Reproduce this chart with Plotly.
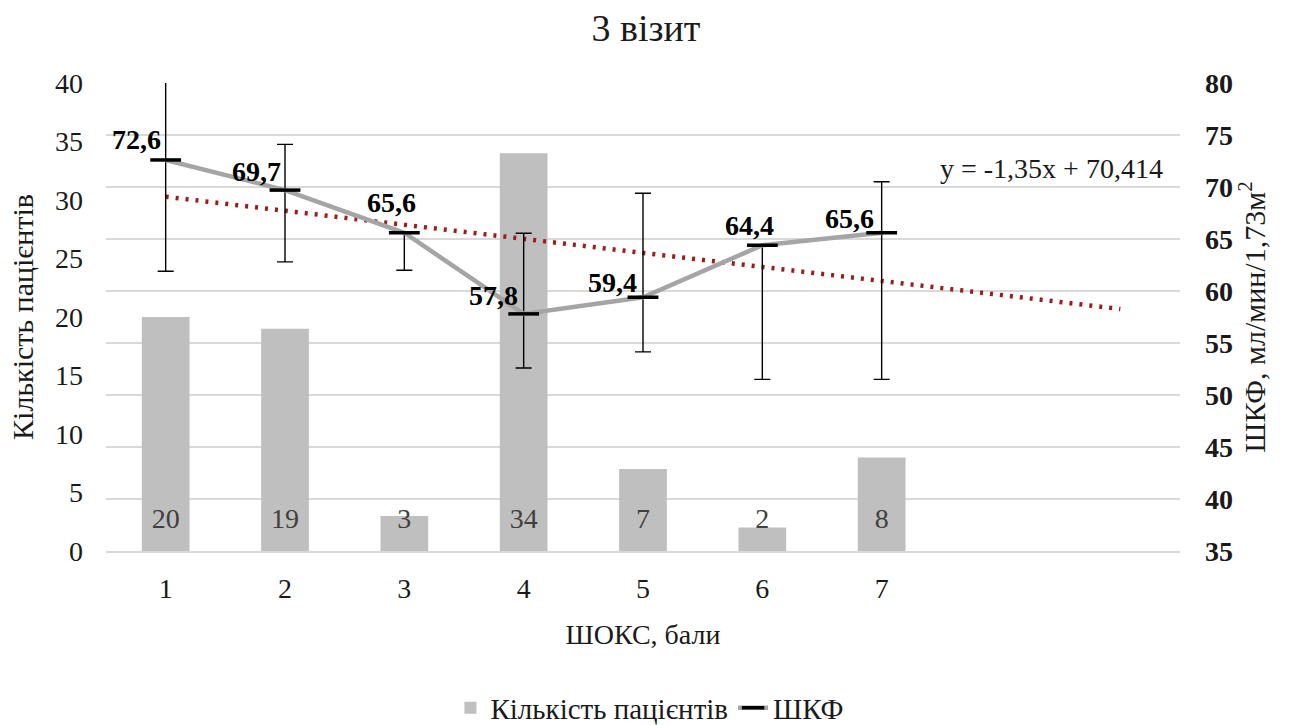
import numpy as np
import plotly.graph_objects as go

# ---------------- data ----------------
categories = [1, 2, 3, 4, 5, 6, 7]
tick_labels = ["1", "2", "3", "4", "5", "6", "7"]
patients = [20, 19, 3, 34, 7, 2, 8]
gfr = [72.6, 69.7, 65.6, 57.8, 59.4, 64.4, 65.6]
gfr_err_plus = [11.3, 4.4, 0.0, 7.75, 10.0, 0.0, 4.9]
gfr_err_minus = [10.7, 6.9, 3.6, 5.2, 5.25, 12.9, 14.1]
trend_x_range = [1, 9]

# ---------------- style ----------------
FONT = "Liberation Serif, Times New Roman, serif"
TXT = "#1a1a1a"
BASE = 28
BAR_LABEL_Y = 2.6
# label offsets (px) of the line data labels relative to their points
label_dx = [-29, -28.5, -12.7, -30, -30.7, -13.3, -32]
label_dy = [20, 19, 30, 18.5, 14.7, 20, 14]

slope, intercept = np.polyfit(categories, gfr, 1)
trend_y = [slope * x + intercept for x in trend_x_range]
trend_text = f"y = {slope:.2f}x + {intercept:.3f}".replace(".", ",")

fig = go.Figure()

fig.add_trace(go.Bar(
    x=categories, y=patients, name="Кількість пацієнтів",
    marker=dict(color="#bfbfbf", line=dict(width=0)), width=0.4, yaxis="y",
))
fig.add_trace(go.Scatter(
    x=categories, y=[BAR_LABEL_Y] * len(categories), mode="text",
    text=[str(v) for v in patients],
    textfont=dict(family=FONT, size=BASE, color="#404040"),
    showlegend=False, hoverinfo="skip", yaxis="y",
))
fig.add_trace(go.Scatter(
    x=trend_x_range, y=trend_y, mode="lines",
    line=dict(color="#9e1b1b", width=4.5, dash="3px,7px"),
    showlegend=False, hoverinfo="skip", yaxis="y2",
))
fig.add_trace(go.Scatter(
    x=categories, y=gfr, mode="lines+markers", name="ШКФ",
    line=dict(color="#a5a5a5", width=4.5),
    marker=dict(symbol="line-ew", size=22, color="black",
                line=dict(width=3.5, color="black")),
    error_y=dict(type="data", symmetric=False, array=gfr_err_plus,
                 arrayminus=gfr_err_minus, color="black",
                 thickness=1.4, width=8),
    yaxis="y2",
))

annotations = []
for x, v, dx, dy in zip(categories, gfr, label_dx, label_dy):
    annotations.append(dict(
        x=x, y=v, xref="x", yref="y2", text=f"{v:.1f}".replace(".", ","),
        showarrow=False, xshift=dx, yshift=dy,
        font=dict(family=FONT, size=BASE, color="black", weight="bold"),
    ))
annotations.append(dict(
    x=1.0 - (1180 - 1165) / 1074, y=(551 - 168) / 468,
    xref="paper", yref="paper", text=trend_text,
    xanchor="right", yanchor="middle",
    showarrow=False, font=dict(family=FONT, size=BASE, color=TXT),
))

fig.update_layout(
    width=1292, height=725,
    margin=dict(l=106, r=112, t=83, b=174, autoexpand=False),
    paper_bgcolor="white", plot_bgcolor="white",
    font=dict(family=FONT, size=BASE, color=TXT),
    title=dict(text="3 візит", x=0.5, xanchor="center", y=1 - 28 / 725,
               yanchor="middle", font=dict(family=FONT, size=38, color=TXT)),
    showlegend=True,
    legend=dict(orientation="h", x=0.506, xanchor="center", y=-0.335,
                yanchor="middle", font=dict(family=FONT, size=29, color=TXT),
                tracegroupgap=0, bgcolor="rgba(0,0,0,0)"),
    xaxis=dict(range=[0.5, 9.5], tickvals=categories, ticktext=tick_labels,
               automargin=False,
               showgrid=False, zeroline=False, showline=True,
               linecolor="#d9d9d9", linewidth=1.5, ticks="",
               ticklabelstandoff=12,
               tickfont=dict(family=FONT, size=BASE, color=TXT),
               title=dict(text="ШОКС, бали", standoff=21,
                          font=dict(family=FONT, size=BASE, color=TXT))),
    yaxis=dict(range=[0, 40], tick0=0, dtick=5, showgrid=False,
               automargin=False,
               zeroline=False, showline=False, ticks="",
               ticklabelstandoff=22,
               tickfont=dict(family=FONT, size=BASE, color=TXT),
               title=dict(text="Кількість пацієнтів", standoff=12,
                          font=dict(family=FONT, size=30, color=TXT))),
    yaxis2=dict(range=[35, 80], tick0=35, dtick=5, overlaying="y",
                automargin=False,
                side="right", showgrid=True, gridcolor="#d9d9d9",
                gridwidth=1.5, zeroline=False, showline=False, ticks="",
                ticklabelstandoff=24,
                tickfont=dict(family=FONT, size=BASE, color=TXT,
                              weight="bold"),
                title=dict(text="ШКФ, мл/мин/1,73м<sup>2</sup>", standoff=8,
                           font=dict(family=FONT, size=30, color=TXT))),
    annotations=annotations,
)

fig.write_html("out.html")
